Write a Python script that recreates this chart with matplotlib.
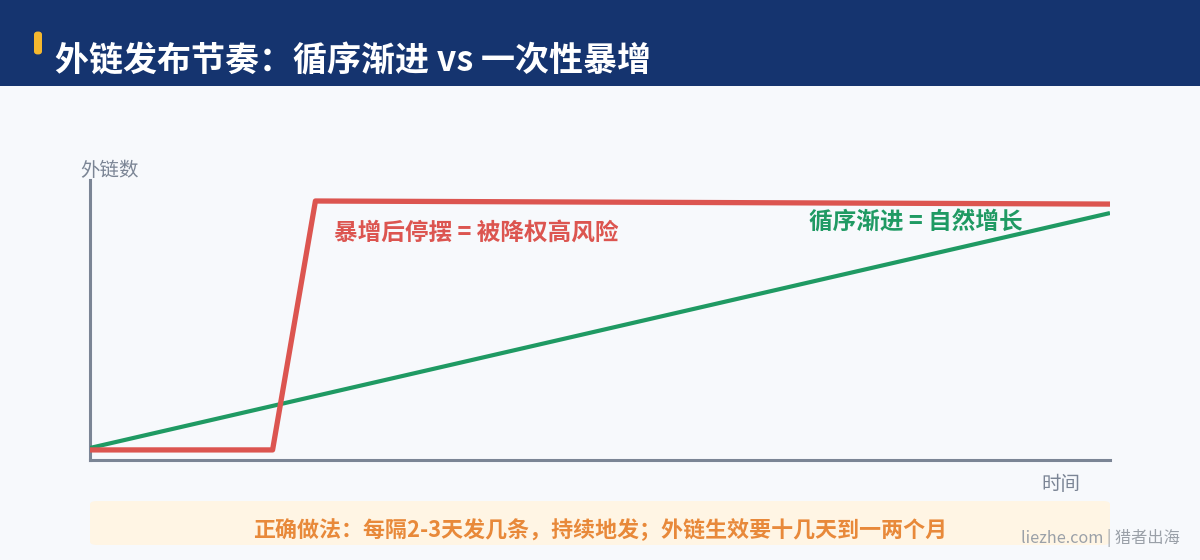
import matplotlib.pyplot as plt
from matplotlib.patches import FancyBboxPatch, Rectangle

plt.rcParams['font.family'] = ['Noto Sans CJK SC', 'DejaVu Sans']

# data (time 0-100, link count 0-100)
burst_t = [0, 17.9, 22.1, 100]
burst_y = [3.6, 3.6, 92.5, 91.4]
steady_t = [0, 100]
steady_y = [4.3, 88.2]

title = '外链发布节奏：循序渐进 vs 一次性暴增'
burst_label = '暴增后停摆 = 被降权高风险'
steady_label = '循序渐进 = 自然增长'
tip = '正确做法：每隔2-3天发几条，持续地发；外链生效要十几天到一两个月'

bg = '#f7f9fc'
navy = '#15346f'
red = '#dc5550'
green = '#1f9a63'
gray = '#7b8595'
orange = '#e8893a'

fig = plt.figure(figsize=(12, 5.6), dpi=100, facecolor=bg)

# header band
fig.patches.append(Rectangle((0, 1 - 86/560), 1, 86/560, transform=fig.transFigure,
                             facecolor=navy, edgecolor='none'))
fig.patches.append(FancyBboxPatch((34/1200, 1 - 55/560), 8/1200, 24/560,
                                  boxstyle='round,pad=0,rounding_size=0.006',
                                  transform=fig.transFigure, facecolor='#f5b82e', edgecolor='none'))
fig.text(55/1200, 1 - 61/560, title, color='white', fontsize=24.5, fontweight='bold', va='center')

ax = fig.add_axes([90/1200, 1 - 460/560, 1020/1200, 280/560])
ax.set_facecolor(bg)
ax.plot(steady_t, steady_y, color=green, lw=3.0, solid_capstyle='butt', zorder=3)
ax.plot(burst_t, burst_y, color=red, lw=3.8, solid_joinstyle='round', solid_capstyle='butt', zorder=4)
ax.set_xlim(0, 100)
ax.set_ylim(0, 100)
ax.set_xticks([])
ax.set_yticks([])
for s in ['top', 'right']:
    ax.spines[s].set_visible(False)
for s in ['left', 'bottom']:
    ax.spines[s].set_color(gray)
    ax.spines[s].set_linewidth(2.2)

ax.text(23.9, 81.2, burst_label, color=red, fontsize=17, fontweight='bold', va='center')
ax.text(70.5, 84.8, steady_label, color=green, fontsize=17, fontweight='bold', va='center')

fig.text(80/1200, 1 - 171/560, '外链数', color=gray, fontsize=14, va='center')
fig.text(1080/1200, 1 - 484/560, '时间', color=gray, fontsize=14, va='center', ha='right')

# tip box
fig.patches.append(FancyBboxPatch((90/1200, 1 - 545/560), 1020/1200, 44/560,
                                  boxstyle='round,pad=0,rounding_size=0.006',
                                  transform=fig.transFigure, facecolor='#fff5e4', edgecolor='none'))
fig.text(600/1200, 1 - 531/560, tip, color=orange, fontsize=15.8, fontweight='bold',
         va='center', ha='center')
fig.text(1180/1200, 1 - 538/560, 'liezhe.com | 猎者出海', color='#9aa0a8', fontsize=11.7,
         va='center', ha='right')

plt.savefig('out.png', dpi=100, facecolor=bg)
